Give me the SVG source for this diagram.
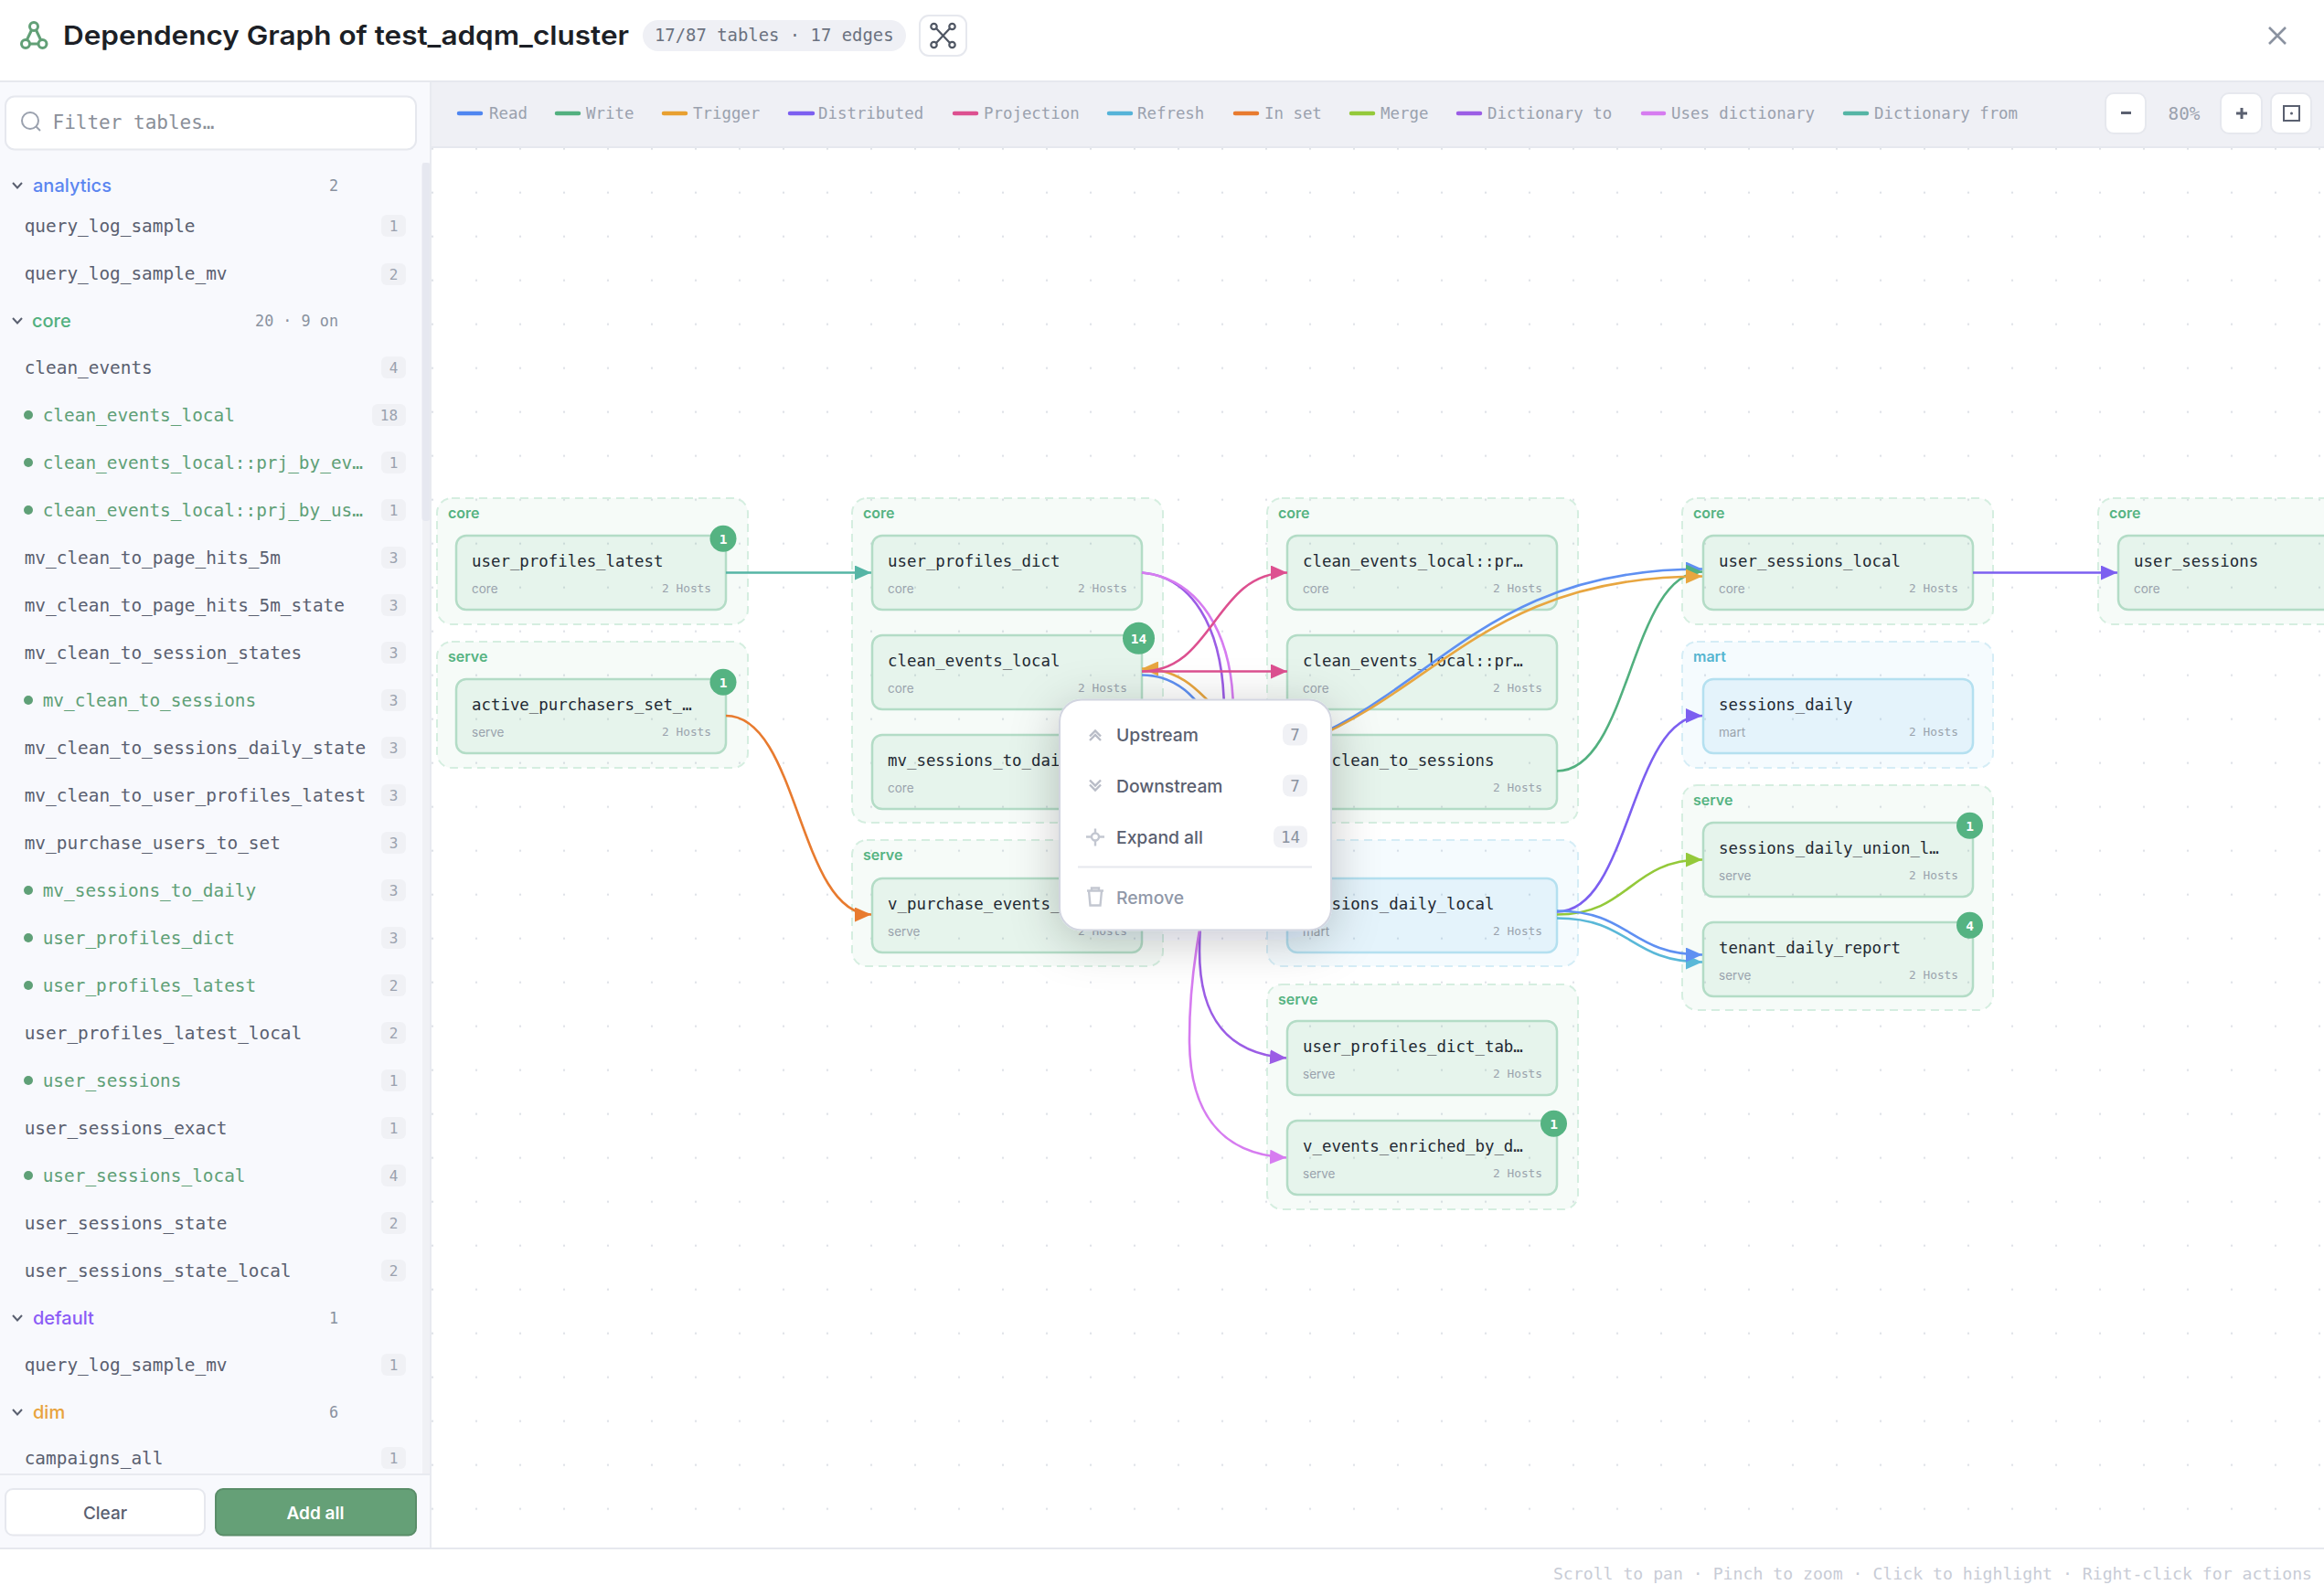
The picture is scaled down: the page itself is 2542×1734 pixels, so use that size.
<svg xmlns="http://www.w3.org/2000/svg" width="2542" height="1734" viewBox="0 0 2542 1734">
<style>
text{font-family:"DejaVu Sans Mono","Liberation Mono",monospace}
.ui{font-family:Inter,"Noto Sans",sans-serif}
.grp{fill:#52b07f;fill-opacity:.055;stroke:#d5eee0;stroke-width:2;stroke-dasharray:9 6;transform:translateY(1px)}
.grpm{fill:#5bb8e8;fill-opacity:.06;stroke:#d5edf6;stroke-width:2;stroke-dasharray:9 6;transform:translateY(1px)}
.gl{font-family:Inter,sans-serif;font-size:16px;font-weight:600;fill:#55b382}
.glm{font-family:Inter,sans-serif;font-size:16px;font-weight:600;fill:#55b5d0}
.nd{fill:#52b07f;fill-opacity:.095;stroke:#b3dcc6;stroke-width:2.5;transform:translateY(1px)}
.ndm{fill:#5bb8e8;fill-opacity:.11;stroke:#b4e0f0;stroke-width:2.5;transform:translateY(1px)}
.t{font-size:17.4px;fill:#1f2933}
.s{font-family:Inter,sans-serif;font-size:13.5px;fill:#9aa3ad}
.h{font-size:12.8px;fill:#9aa3ad;text-anchor:end}
.bc{fill:#55b382}
.bt{font-size:14.5px;font-weight:700;fill:#fff;text-anchor:middle}
.e{fill:none;stroke-width:2.6}
.li{font-size:19.4px;fill:#5a6070}
.on{font-size:19.4px;fill:#5fa077;font-weight:500}
.dot{fill:#5fa077}
.b{fill:#f0f1f5}
.bx{font-size:16px;fill:#9aa1ae;text-anchor:middle}
.sec{font-family:Inter,sans-serif;font-size:20px;font-weight:500}
.cnt{font-size:16.8px;fill:#8a92a0;text-anchor:end}
.chev{fill:none;stroke:#5a6070;stroke-width:2}
.lg{stroke-width:4.5;stroke-linecap:round}
.lt{font-size:17.4px;fill:#9aa1ae}
.zb{fill:#fff;stroke:#e6e8ee;stroke-width:2}
.mi{font-family:Inter,sans-serif;font-size:19.3px;font-weight:500;fill:#5a6070}
.ic{fill:none;stroke:#c3c7d1;stroke-width:2.4}
.mb{fill:#f0f1f5}
.mbt{font-size:17.5px;fill:#8a92a0;text-anchor:middle}
</style>
<defs>
<pattern id="dots" patternUnits="userSpaceOnUse" x="449" y="138.7" width="48" height="48"><circle cx="24" cy="24" r="1.2" fill="#dfe2e8"/></pattern>
<filter id="sh" x="-40%" y="-40%" width="180%" height="180%"><feDropShadow dx="0" dy="10" stdDeviation="26" flood-color="#101828" flood-opacity=".22"/></filter>
<marker id="a-read" markerUnits="userSpaceOnUse" markerWidth="18" markerHeight="16" refX="18" refY="8" orient="auto"><path d="M0 0L18 8L0 16Z" fill="#5f90f2"/></marker>
<marker id="a-write" markerUnits="userSpaceOnUse" markerWidth="18" markerHeight="16" refX="18" refY="8" orient="auto"><path d="M0 0L18 8L0 16Z" fill="#52b07f"/></marker>
<marker id="a-trig" markerUnits="userSpaceOnUse" markerWidth="18" markerHeight="16" refX="18" refY="8" orient="auto"><path d="M0 0L18 8L0 16Z" fill="#e8a640"/></marker>
<marker id="a-dist" markerUnits="userSpaceOnUse" markerWidth="18" markerHeight="16" refX="18" refY="8" orient="auto"><path d="M0 0L18 8L0 16Z" fill="#7c5ff0"/></marker>
<marker id="a-proj" markerUnits="userSpaceOnUse" markerWidth="18" markerHeight="16" refX="18" refY="8" orient="auto"><path d="M0 0L18 8L0 16Z" fill="#dd5090"/></marker>
<marker id="a-refr" markerUnits="userSpaceOnUse" markerWidth="18" markerHeight="16" refX="18" refY="8" orient="auto"><path d="M0 0L18 8L0 16Z" fill="#5ab8d8"/></marker>
<marker id="a-inset" markerUnits="userSpaceOnUse" markerWidth="18" markerHeight="16" refX="18" refY="8" orient="auto"><path d="M0 0L18 8L0 16Z" fill="#e87b2f"/></marker>
<marker id="a-merge" markerUnits="userSpaceOnUse" markerWidth="18" markerHeight="16" refX="18" refY="8" orient="auto"><path d="M0 0L18 8L0 16Z" fill="#94c93a"/></marker>
<marker id="a-dto" markerUnits="userSpaceOnUse" markerWidth="18" markerHeight="16" refX="18" refY="8" orient="auto"><path d="M0 0L18 8L0 16Z" fill="#9b5de5"/></marker>
<marker id="a-uses" markerUnits="userSpaceOnUse" markerWidth="18" markerHeight="16" refX="18" refY="8" orient="auto"><path d="M0 0L18 8L0 16Z" fill="#d67cf0"/></marker>
<marker id="a-dfrom" markerUnits="userSpaceOnUse" markerWidth="18" markerHeight="16" refX="18" refY="8" orient="auto"><path d="M0 0L18 8L0 16Z" fill="#55b5a5"/></marker>
</defs>
<rect width="2542" height="1734" fill="#fff"/>
<!-- canvas -->
<rect x="471" y="161" width="2071" height="1532" fill="url(#dots)"/>
<!-- layer groups -->
<g id="layers">
<g id="g1"><rect class="grp" x="478" y="544" width="340" height="138" rx="16"/><text class="gl" x="490" y="567">core</text></g>
<g id="g2"><rect class="grp" x="478" y="701" width="340" height="138" rx="16"/><text class="gl" x="490" y="724">serve</text></g>
<g id="g3"><rect class="grp" x="932" y="544" width="340" height="355" rx="16"/><text class="gl" x="944" y="567">core</text></g>
<g id="g4"><rect class="grp" x="932" y="918" width="340" height="138" rx="16"/><text class="gl" x="944" y="941">serve</text></g>
<g id="g5"><rect class="grp" x="1386" y="544" width="340" height="355" rx="16"/><text class="gl" x="1398" y="567">core</text></g>
<g id="g6"><rect class="grpm" x="1386" y="918" width="340" height="138" rx="16"/></g>
<g id="g7"><rect class="grp" x="1386" y="1076" width="340" height="246" rx="16"/><text class="gl" x="1398" y="1099">serve</text></g>
<g id="g8"><rect class="grp" x="1840" y="544" width="340" height="138" rx="16"/><text class="gl" x="1852" y="567">core</text></g>
<g id="g9"><rect class="grpm" x="1840" y="701" width="340" height="138" rx="16"/><text class="glm" x="1852" y="724">mart</text></g>
<g id="g10"><rect class="grp" x="1840" y="858" width="340" height="246" rx="16"/><text class="gl" x="1852" y="881">serve</text></g>
<g id="g11"><rect class="grp" x="2295" y="544" width="340" height="138" rx="16"/><text class="gl" x="2307" y="567">core</text></g>
</g>
<!-- nodes -->
<g id="nodes">
<g id="n-user_profiles_latest"><rect class="nd" x="499" y="585" width="295" height="81" rx="11"/><text class="t" x="516" y="619.5">user_profiles_latest</text><text class="s" x="516" y="649">core</text><text class="h" x="778" y="648">2 Hosts</text></g>
<g id="n-active_purchasers"><rect class="nd" x="499" y="742" width="295" height="81" rx="11"/><text class="t" x="516" y="776.5">active_purchasers_set_…</text><text class="s" x="516" y="806">serve</text><text class="h" x="778" y="805">2 Hosts</text></g>
<g id="n-user_profiles_dict"><rect class="nd" x="954" y="585" width="295" height="81" rx="11"/><text class="t" x="971" y="619.5">user_profiles_dict</text><text class="s" x="971" y="649">core</text><text class="h" x="1233" y="648">2 Hosts</text></g>
<g id="n-clean_events_local"><rect class="nd" x="954" y="694" width="295" height="81" rx="11"/><text class="t" x="971" y="728.5">clean_events_local</text><text class="s" x="971" y="758">core</text><text class="h" x="1233" y="757">2 Hosts</text></g>
<g id="n-mv_sessions_to_daily"><rect class="nd" x="954" y="803" width="295" height="81" rx="11"/><text class="t" x="971" y="837.5">mv_sessions_to_daily</text><text class="s" x="971" y="867">core</text></g>
<g id="n-v_purchase_events"><rect class="nd" x="954" y="960" width="295" height="81" rx="11"/><text class="t" x="971" y="994.5">v_purchase_events_</text><text class="s" x="971" y="1024">serve</text><text class="h" x="1233" y="1023">2 Hosts</text></g>
<g id="n-prj1"><rect class="nd" x="1408" y="585" width="295" height="81" rx="11"/><text class="t" x="1425" y="619.5">clean_events_local::pr…</text><text class="s" x="1425" y="649">core</text><text class="h" x="1687" y="648">2 Hosts</text></g>
<g id="n-prj2"><rect class="nd" x="1408" y="694" width="295" height="81" rx="11"/><text class="t" x="1425" y="728.5">clean_events_local::pr…</text><text class="s" x="1425" y="758">core</text><text class="h" x="1687" y="757">2 Hosts</text></g>
<g id="n-mv_clean_to_sessions"><rect class="nd" x="1408" y="803" width="295" height="81" rx="11"/><text class="t" x="1425" y="837.5">mv_clean_to_sessions</text><text class="s" x="1425" y="867">core</text><text class="h" x="1687" y="866">2 Hosts</text></g>
<g id="n-sessions_daily_local"><rect class="ndm" x="1408" y="960" width="295" height="81" rx="11"/><text class="t" x="1425" y="994.5">sessions_daily_local</text><text class="s" x="1425" y="1024">mart</text><text class="h" x="1687" y="1023">2 Hosts</text></g>
<g id="n-user_profiles_dict_tab"><rect class="nd" x="1408" y="1116" width="295" height="81" rx="11"/><text class="t" x="1425" y="1150.5">user_profiles_dict_tab…</text><text class="s" x="1425" y="1180">serve</text><text class="h" x="1687" y="1179">2 Hosts</text></g>
<g id="n-v_events_enriched"><rect class="nd" x="1408" y="1225" width="295" height="81" rx="11"/><text class="t" x="1425" y="1259.5">v_events_enriched_by_d…</text><text class="s" x="1425" y="1289">serve</text><text class="h" x="1687" y="1288">2 Hosts</text></g>
<g id="n-user_sessions_local"><rect class="nd" x="1863" y="585" width="295" height="81" rx="11"/><text class="t" x="1880" y="619.5">user_sessions_local</text><text class="s" x="1880" y="649">core</text><text class="h" x="2142" y="648">2 Hosts</text></g>
<g id="n-sessions_daily"><rect class="ndm" x="1863" y="742" width="295" height="81" rx="11"/><text class="t" x="1880" y="776.5">sessions_daily</text><text class="s" x="1880" y="806">mart</text><text class="h" x="2142" y="805">2 Hosts</text></g>
<g id="n-sessions_daily_union"><rect class="nd" x="1863" y="899" width="295" height="81" rx="11"/><text class="t" x="1880" y="933.5">sessions_daily_union_l…</text><text class="s" x="1880" y="963">serve</text><text class="h" x="2142" y="962">2 Hosts</text></g>
<g id="n-tenant_daily_report"><rect class="nd" x="1863" y="1008" width="295" height="81" rx="11"/><text class="t" x="1880" y="1042.5">tenant_daily_report</text><text class="s" x="1880" y="1072">serve</text><text class="h" x="2142" y="1071">2 Hosts</text></g>
<g id="n-user_sessions"><rect class="nd" x="2317" y="585" width="295" height="81" rx="11"/><text class="t" x="2334" y="619.5">user_sessions</text><text class="s" x="2334" y="649">core</text></g>
</g>
<!-- connectors -->
<g id="connectors" transform="translate(0 .5)">
<path class="e" stroke="#55b5a5" marker-end="url(#a-dfrom)" d="M794 626H953"/>
<path class="e" stroke="#e87b2f" marker-end="url(#a-inset)" d="M794 782.5C874 782.5 873 1000 953 1000"/>
<path class="e" stroke="#9b5de5" marker-end="url(#a-dto)" d="M1249 626C1300 630 1339 680 1339 780C1339 880 1312 950 1312 1040C1312 1110 1340 1152 1407 1157"/>
<path class="e" stroke="#d67cf0" marker-end="url(#a-uses)" d="M1249 626C1310 632 1349 690 1349 780C1349 900 1300 1000 1301 1140C1302 1210 1330 1262 1407 1266"/>
<path class="e" stroke="#5f90f2" marker-end="url(#a-read)" d="M1249 738C1328 738 1328 843 1408 843"/>
<path class="e" stroke="#e8a640" marker-end="url(#a-trig)" d="M1408 815C1328 815 1328 731 1249 731"/>
<path class="e" stroke="#dd5090" marker-end="url(#a-proj)" d="M1249 734C1328 734 1328 626 1408 626"/>
<path class="e" stroke="#dd5090" marker-end="url(#a-proj)" d="M1249 734H1408"/>
<path class="e" stroke="#5f90f2" marker-end="url(#a-read)" d="M1249 843C1556 843 1556 622 1862 622"/>
<path class="e" stroke="#52b07f" marker-end="url(#a-write)" d="M1703 843C1783 843 1783 625 1862 625"/>
<path class="e" stroke="#e8a640" marker-end="url(#a-trig)" d="M1249 843C1556 843 1556 630 1862 630"/>
<path class="e" stroke="#7c5ff0" marker-end="url(#a-dist)" d="M1703 997C1783 997 1783 782.5 1862 782.5"/>
<path class="e" stroke="#94c93a" marker-end="url(#a-merge)" d="M1703 1000C1783 1000 1783 940 1862 940"/>
<path class="e" stroke="#5ab8d8" marker-end="url(#a-refr)" d="M1703 1004C1783 1004 1783 1052 1862 1052"/>
<path class="e" stroke="#5f90f2" marker-end="url(#a-read)" d="M1703 996C1783 996 1783 1044 1862 1044"/>
<path class="e" stroke="#7c5ff0" marker-end="url(#a-dist)" d="M2158 626H2316"/>
</g>
<!-- count badges -->
<g id="badges" transform="translate(0 .8)">
<circle class="bc" cx="791" cy="588.5" r="14.5"/><text class="bt" x="791" y="594">1</text>
<circle class="bc" cx="791" cy="745.5" r="14.5"/><text class="bt" x="791" y="751">1</text>
<circle class="bc" cx="1245.5" cy="697.5" r="17.5"/><text class="bt" x="1245.5" y="703">14</text>
<circle class="bc" cx="1699.5" cy="1228.5" r="14.5"/><text class="bt" x="1699.5" y="1234">1</text>
<circle class="bc" cx="2154.5" cy="902.5" r="14.5"/><text class="bt" x="2154.5" y="908">1</text>
<circle class="bc" cx="2154.5" cy="1011.5" r="14.5"/><text class="bt" x="2154.5" y="1017">4</text>
</g>
<!-- header -->
<g id="header">
<rect width="2542" height="88" fill="#fff"/>
<rect y="88" width="2542" height="2" fill="#e6e8ee"/>
<g fill="none" stroke="#62a077" stroke-width="3"><path d="M34.5 33L29 44.5M39.5 33L45 44.5M32.5 48H42"/><circle cx="37" cy="29" r="4.5"/><circle cx="28" cy="48" r="4.5"/><circle cx="46.5" cy="48" r="4.5"/></g>
<text class="ui" x="69" y="49" font-size="29" font-weight="600" fill="#1c1f26" textLength="619" lengthAdjust="spacingAndGlyphs">Dependency Graph of test_adqm_cluster</text>
<rect x="703" y="22" width="288" height="34" rx="17" fill="#eff0f5"/>
<text x="716" y="45" font-size="18.9" fill="#6b7280">17/87 tables · 17 edges</text>
<rect class="zb" x="1006" y="17" width="51" height="44" rx="10"/>
<g fill="none" stroke="#4f5663" stroke-width="2.2"><path d="M1024 31L1039 47M1039 31L1024 47"/><circle cx="1021.5" cy="29" r="3.2"/><circle cx="1041.5" cy="29" r="3.2"/><circle cx="1021.5" cy="49" r="3.2"/><circle cx="1041.5" cy="49" r="3.2"/></g>
<path d="M2482 30L2500 48M2500 30L2482 48" stroke="#8a92a0" stroke-width="2.6" fill="none"/>
</g>
<!-- legend bar -->
<g id="legend">
<rect x="471" y="90" width="2071" height="70" fill="#eff0f5"/>
<rect x="471" y="160" width="2071" height="2" fill="#e6e8ee"/>
<path class="lg" stroke="#4f86f0" d="M502 124H526"/><text class="lt" x="535" y="130">Read</text>
<path class="lg" stroke="#52b07f" d="M609 124H633"/><text class="lt" x="641" y="130">Write</text>
<path class="lg" stroke="#e8a030" d="M726 124H750"/><text class="lt" x="758" y="130">Trigger</text>
<path class="lg" stroke="#7c5ff0" d="M864 124H889"/><text class="lt" x="895" y="130">Distributed</text>
<path class="lg" stroke="#dd5090" d="M1044 124H1068"/><text class="lt" x="1076" y="130">Projection</text>
<path class="lg" stroke="#55b3d8" d="M1213 124H1237"/><text class="lt" x="1244" y="130">Refresh</text>
<path class="lg" stroke="#e87b2f" d="M1351 124H1375"/><text class="lt" x="1383" y="130">In set</text>
<path class="lg" stroke="#94c93a" d="M1478 124H1502"/><text class="lt" x="1510" y="130">Merge</text>
<path class="lg" stroke="#9b5de5" d="M1595 124H1619"/><text class="lt" x="1627" y="130">Dictionary to</text>
<path class="lg" stroke="#d67cf0" d="M1797 124H1820"/><text class="lt" x="1828" y="130">Uses dictionary</text>
<path class="lg" stroke="#55b5a5" d="M2018 124H2042"/><text class="lt" x="2050" y="130">Dictionary from</text>
<rect class="zb" x="2303" y="102" width="44" height="44" rx="9"/><path d="M2320 123.5H2331" stroke="#5a6070" stroke-width="3"/>
<text x="2389" y="131" font-size="19.3" fill="#9aa1ae" text-anchor="middle">80%</text>
<rect class="zb" x="2429" y="102" width="45" height="44" rx="9"/><path d="M2446 124H2458M2452 118V130" stroke="#5a6070" stroke-width="3"/>
<rect class="zb" x="2484" y="102" width="44" height="44" rx="9"/><rect x="2498" y="116" width="17" height="16" fill="none" stroke="#5a6070" stroke-width="2"/><circle cx="2506.5" cy="124" r="1.5" fill="#5a6070"/>
</g>
<!-- sidebar -->
<g id="sidebar">
<rect x="0" y="90" width="470" height="1603" fill="#f8f9fd"/>
<rect x="462" y="178" width="8" height="1434" fill="#f0f1f5"/>
<rect x="461.5" y="178" width="9" height="392" rx="4" fill="#e6e8f0"/>
<rect x="470" y="90" width="2" height="1603" fill="#e8eaf0"/>
<rect x="6" y="105.5" width="449" height="58" rx="10" fill="#fff" stroke="#e6e8ee" stroke-width="2"/>
<circle cx="33" cy="132" r="9" fill="none" stroke="#9aa1ae" stroke-width="2"/><path d="M39.5 138.5L44 143" stroke="#9aa1ae" stroke-width="2"/>
<text x="57.5" y="141" font-size="21" fill="#8a8f99">Filter tables…</text>
<path class="chev" d="M14 200L19 205.5L24 200"/><text class="sec" x="36" y="210" fill="#5b86f0">analytics</text><text class="cnt" x="370" y="209">2</text>
<text class="li" x="26.7" y="254">query_log_sample</text><rect class="b" x="417" y="235" width="27" height="24" rx="6"/><text class="bx" x="430.5" y="252.5">1</text>
<text class="li" x="26.7" y="306">query_log_sample_mv</text><rect class="b" x="417" y="288" width="27" height="24" rx="6"/><text class="bx" x="430.5" y="305.5">2</text>
<path class="chev" d="M14 348L19 353.5L24 348"/><text class="sec" x="35" y="358" fill="#52b07f">core</text><text class="cnt" x="370" y="357">20 · 9 on</text>
<text class="li" x="26.7" y="408.5">clean_events</text><rect class="b" x="417" y="390" width="27" height="24" rx="6"/><text class="bx" x="430.5" y="407.5">4</text>
<circle class="dot" cx="31" cy="454" r="5"/><text class="on" x="46.7" y="460.5">clean_events_local</text><rect class="b" x="407" y="442" width="37" height="24" rx="6"/><text class="bx" x="425.5" y="459.5">18</text>
<circle class="dot" cx="31" cy="506" r="5"/><text class="on" x="46.7" y="512.5">clean_events_local::prj_by_ev…</text><rect class="b" x="417" y="494" width="27" height="24" rx="6"/><text class="bx" x="430.5" y="511.5">1</text>
<circle class="dot" cx="31" cy="558" r="5"/><text class="on" x="46.7" y="564.5">clean_events_local::prj_by_us…</text><rect class="b" x="417" y="546" width="27" height="24" rx="6"/><text class="bx" x="430.5" y="563.5">1</text>
<text class="li" x="26.7" y="616.5">mv_clean_to_page_hits_5m</text><rect class="b" x="417" y="598" width="27" height="24" rx="6"/><text class="bx" x="430.5" y="615.5">3</text>
<text class="li" x="26.7" y="668.5">mv_clean_to_page_hits_5m_state</text><rect class="b" x="417" y="650" width="27" height="24" rx="6"/><text class="bx" x="430.5" y="667.5">3</text>
<text class="li" x="26.7" y="720.5">mv_clean_to_session_states</text><rect class="b" x="417" y="702" width="27" height="24" rx="6"/><text class="bx" x="430.5" y="719.5">3</text>
<circle class="dot" cx="31" cy="766" r="5"/><text class="on" x="46.7" y="772.5">mv_clean_to_sessions</text><rect class="b" x="417" y="754" width="27" height="24" rx="6"/><text class="bx" x="430.5" y="771.5">3</text>
<text class="li" x="26.7" y="824.5">mv_clean_to_sessions_daily_state</text><rect class="b" x="417" y="806" width="27" height="24" rx="6"/><text class="bx" x="430.5" y="823.5">3</text>
<text class="li" x="26.7" y="876.5">mv_clean_to_user_profiles_latest</text><rect class="b" x="417" y="858" width="27" height="24" rx="6"/><text class="bx" x="430.5" y="875.5">3</text>
<text class="li" x="26.7" y="928.5">mv_purchase_users_to_set</text><rect class="b" x="417" y="910" width="27" height="24" rx="6"/><text class="bx" x="430.5" y="927.5">3</text>
<circle class="dot" cx="31" cy="974" r="5"/><text class="on" x="46.7" y="980.5">mv_sessions_to_daily</text><rect class="b" x="417" y="962" width="27" height="24" rx="6"/><text class="bx" x="430.5" y="979.5">3</text>
<circle class="dot" cx="31" cy="1026" r="5"/><text class="on" x="46.7" y="1032.5">user_profiles_dict</text><rect class="b" x="417" y="1014" width="27" height="24" rx="6"/><text class="bx" x="430.5" y="1031.5">3</text>
<circle class="dot" cx="31" cy="1078" r="5"/><text class="on" x="46.7" y="1084.5">user_profiles_latest</text><rect class="b" x="417" y="1066" width="27" height="24" rx="6"/><text class="bx" x="430.5" y="1083.5">2</text>
<text class="li" x="26.7" y="1136.5">user_profiles_latest_local</text><rect class="b" x="417" y="1118" width="27" height="24" rx="6"/><text class="bx" x="430.5" y="1135.5">2</text>
<circle class="dot" cx="31" cy="1182" r="5"/><text class="on" x="46.7" y="1188.5">user_sessions</text><rect class="b" x="417" y="1170" width="27" height="24" rx="6"/><text class="bx" x="430.5" y="1187.5">1</text>
<text class="li" x="26.7" y="1240.5">user_sessions_exact</text><rect class="b" x="417" y="1222" width="27" height="24" rx="6"/><text class="bx" x="430.5" y="1239.5">1</text>
<circle class="dot" cx="31" cy="1286" r="5"/><text class="on" x="46.7" y="1292.5">user_sessions_local</text><rect class="b" x="417" y="1274" width="27" height="24" rx="6"/><text class="bx" x="430.5" y="1291.5">4</text>
<text class="li" x="26.7" y="1344.5">user_sessions_state</text><rect class="b" x="417" y="1326" width="27" height="24" rx="6"/><text class="bx" x="430.5" y="1343.5">2</text>
<text class="li" x="26.7" y="1396.5">user_sessions_state_local</text><rect class="b" x="417" y="1378" width="27" height="24" rx="6"/><text class="bx" x="430.5" y="1395.5">2</text>
<path class="chev" d="M14 1439L19 1444.5L24 1439"/><text class="sec" x="36" y="1449" fill="#8b5cf6">default</text><text class="cnt" x="370" y="1448">1</text>
<text class="li" x="26.7" y="1499.5">query_log_sample_mv</text><rect class="b" x="417" y="1481" width="27" height="24" rx="6"/><text class="bx" x="430.5" y="1498.5">1</text>
<path class="chev" d="M14 1542L19 1547.5L24 1542"/><text class="sec" x="36" y="1552" fill="#e8a33d">dim</text><text class="cnt" x="370" y="1551">6</text>
<text class="li" x="26.7" y="1602">campaigns_all</text><rect class="b" x="417" y="1583" width="27" height="24" rx="6"/><text class="bx" x="430.5" y="1600.5">1</text>
<rect x="0" y="1612" width="470" height="81" fill="#f8f9fd"/>
<rect x="0" y="1612" width="470" height="2" fill="#e8eaf0"/>
<rect x="6" y="1629" width="218" height="50.500" rx="8" fill="#fff" stroke="#e6e8ee" stroke-width="2"/>
<text class="ui" x="115" y="1661.5" font-size="19" font-weight="500" fill="#5a6070" text-anchor="middle">Clear</text>
<rect x="236" y="1629" width="219" height="50.500" rx="8" fill="#65a077" stroke="#5a8d69" stroke-width="2"/>
<text class="ui" x="345" y="1661.5" font-size="19" font-weight="600" fill="#fff" text-anchor="middle">Add all</text>
</g>
<!-- footer -->
<g id="footer">
<rect y="1693" width="2542" height="2" fill="#e6e8ee"/>
<rect y="1695" width="2542" height="39" fill="#fff"/>
<text x="2529" y="1727.5" font-size="18.15" fill="#c8ccd6" text-anchor="end">Scroll to pan · Pinch to zoom · Click to highlight · Right-click for actions</text>
</g>
<!-- context menu -->
<g id="context-menu">
<rect x="1159" y="765.5" width="297" height="252" rx="24" fill="#fff" stroke="#d2d5e0" stroke-width="2" filter="url(#sh)"/>
<g transform="translate(0 1.5)">
<path class="ic" d="M1192 804L1198 798L1204 804M1192 808.5L1198 802.5L1204 808.5" style="stroke:#b8bcc7"/>
<text class="mi" x="1221" y="809">Upstream</text><rect class="mb" x="1403" y="790" width="27" height="24" rx="8"/><text class="mbt" x="1416.5" y="808">7</text>
<path class="ic" d="M1192 852L1198 858L1204 852M1192 857L1198 863L1204 857" style="stroke:#b8bcc7"/>
<text class="mi" x="1221" y="865">Downstream</text><rect class="mb" x="1403" y="846" width="27" height="24" rx="8"/><text class="mbt" x="1416.5" y="864">7</text>
<circle class="ic" cx="1198" cy="914" r="4"/><path class="ic" d="M1188 914H1194M1202 914H1208M1198 905V910M1198 918V924"/>
<text class="mi" x="1221" y="921">Expand all</text><rect class="mb" x="1393" y="902" width="37" height="24" rx="8"/><text class="mbt" x="1411.5" y="920">14</text>
<rect x="1179" y="946" width="256" height="2" fill="#e6e8ee"/>
<path class="ic" d="M1189 973H1207M1194 973V970H1202V973M1191 973L1192.5 989H1203.5L1205 973"/>
<text class="mi" x="1221" y="987" style="fill:#9098a8">Remove</text>
</g>
</g>
</svg>
